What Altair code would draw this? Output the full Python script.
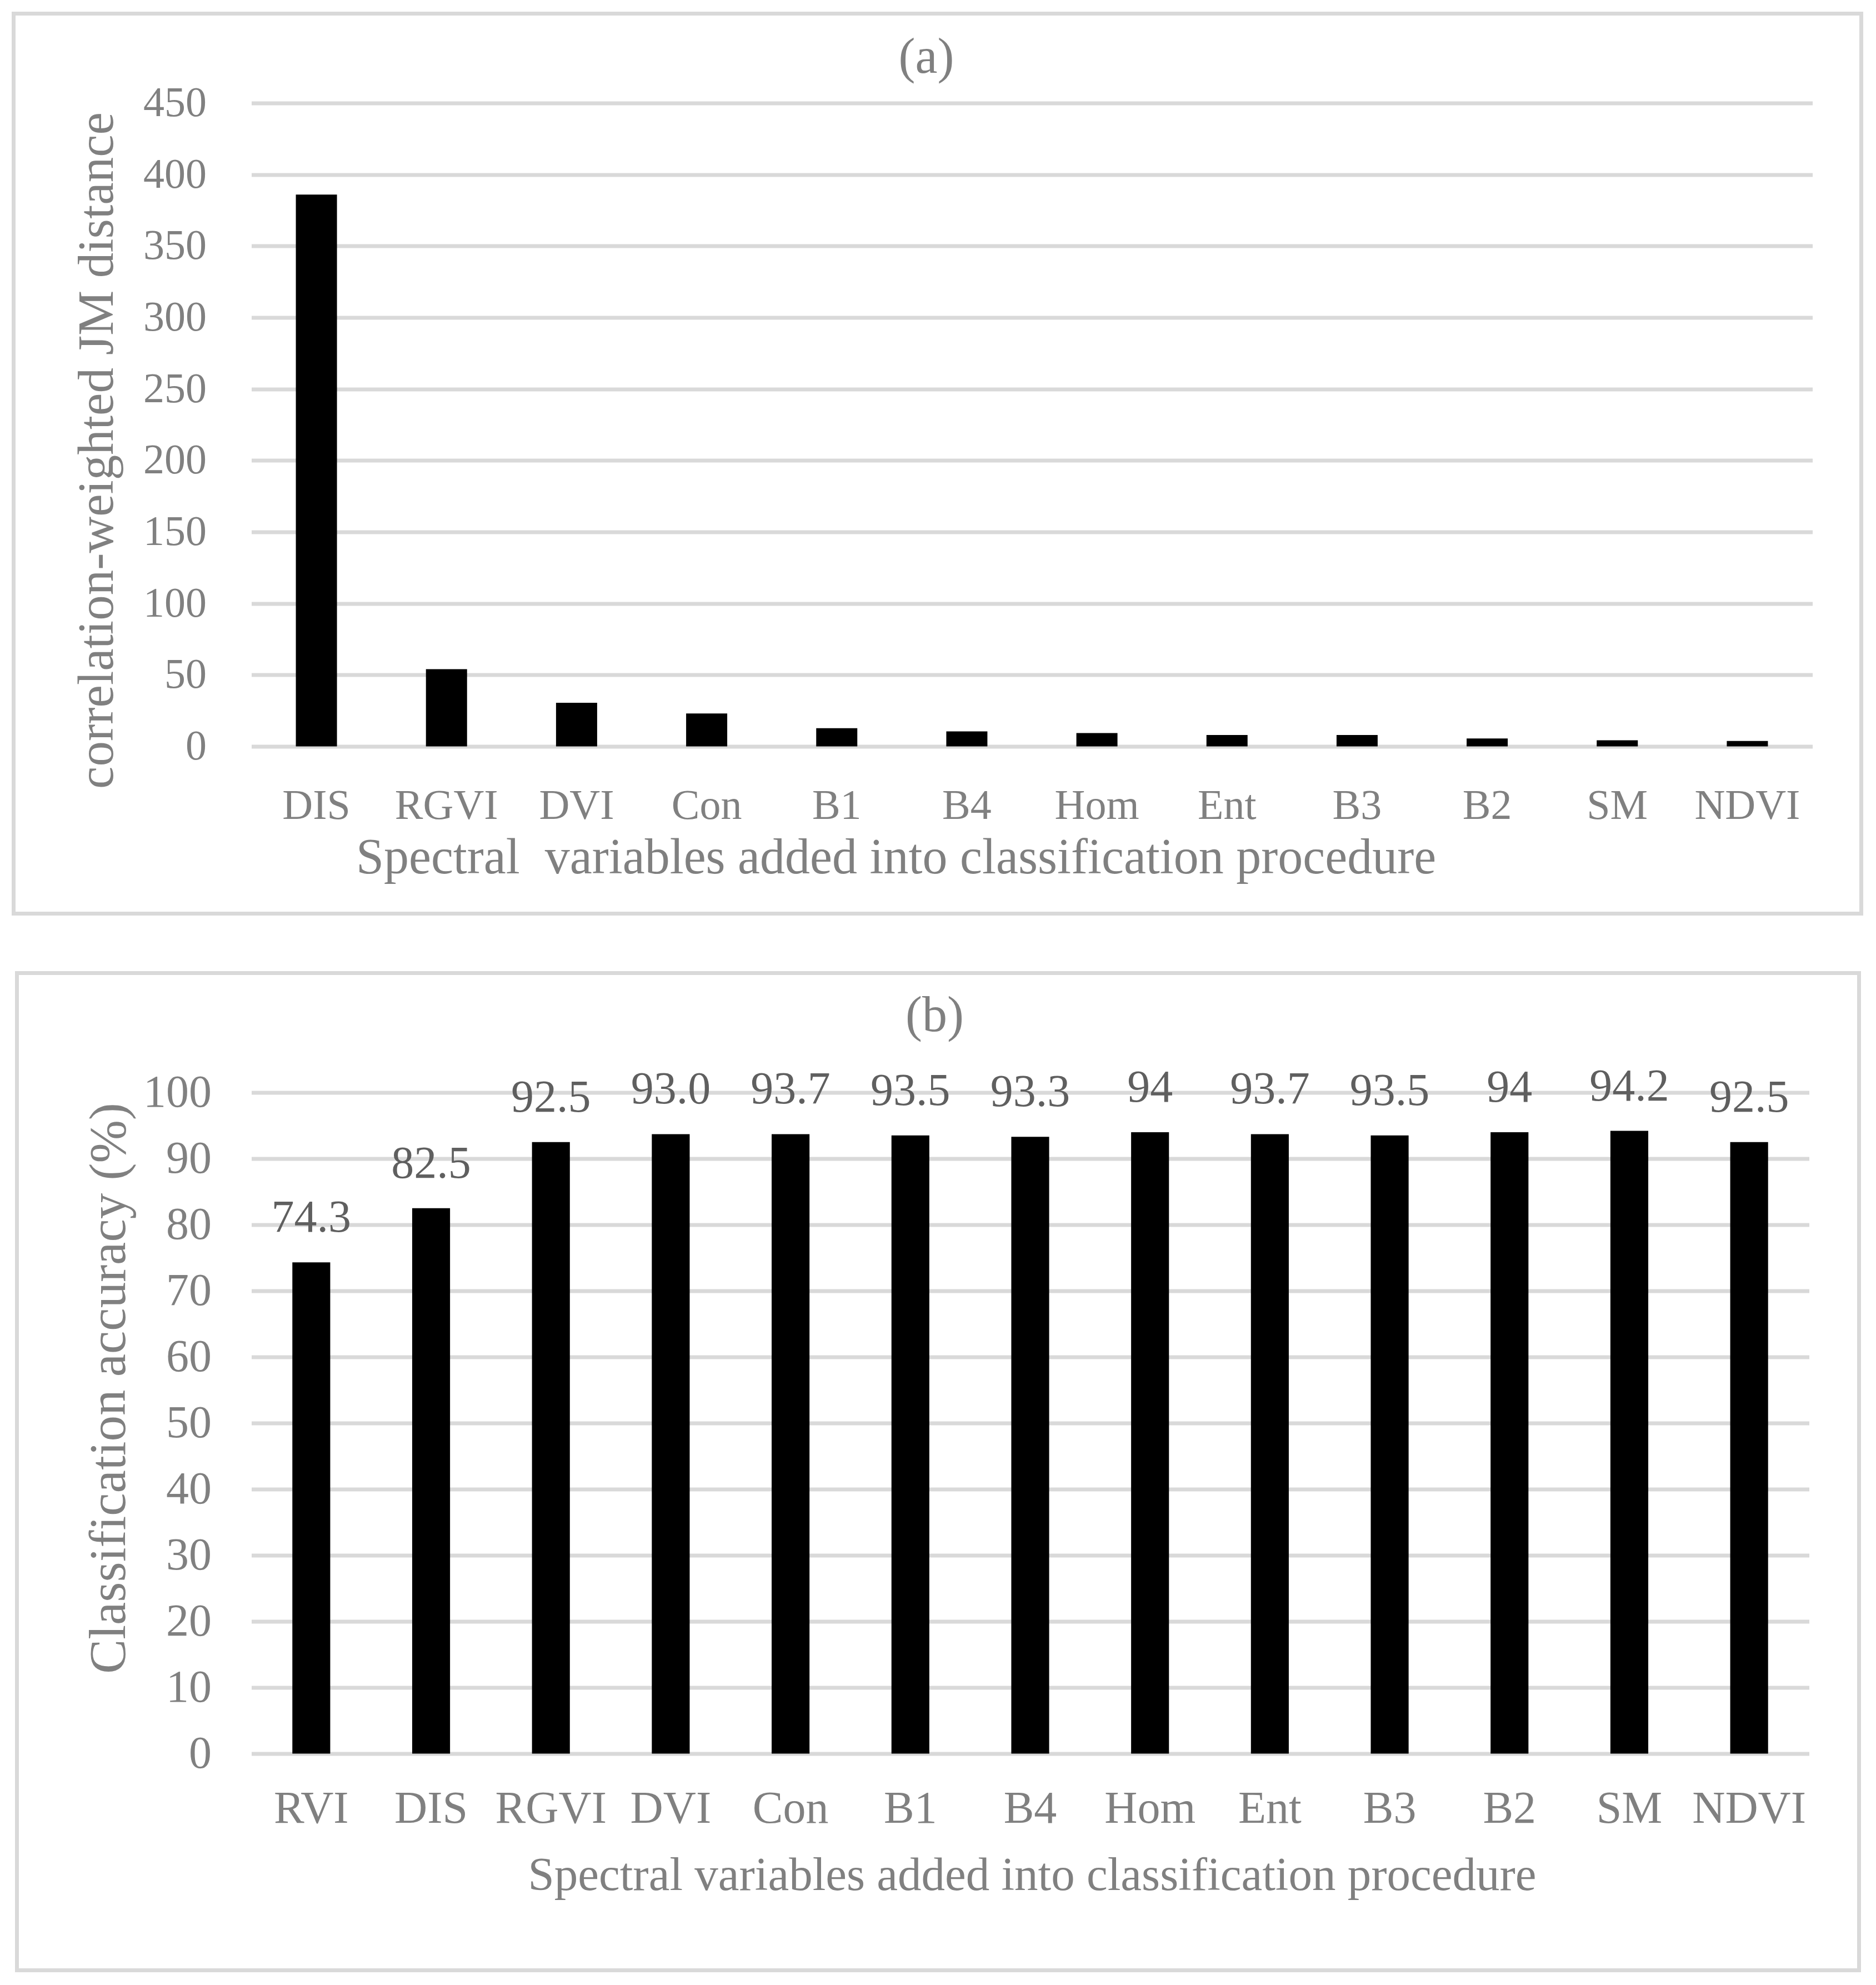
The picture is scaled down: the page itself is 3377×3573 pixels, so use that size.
import altair as alt
import pandas as pd

# ---- data ----
cats_a = ["DIS", "RGVI", "DVI", "Con", "B1", "B4", "Hom", "Ent", "B3", "B2", "SM", "NDVI"]
vals_a = [386, 54, 30.5, 23, 12.7, 10.5, 9.3, 8, 8, 5.5, 4.3, 3.8]
ticks_a = [0, 50, 100, 150, 200, 250, 300, 350, 400, 450]

cats_b = ["RVI", "DIS", "RGVI", "DVI", "Con", "B1", "B4", "Hom", "Ent", "B3", "B2", "SM", "NDVI"]
vals_b = [74.3, 82.5, 92.5, 93.7, 93.7, 93.5, 93.3, 94, 93.7, 93.5, 94, 94.2, 92.5]
labels_b = ["74.3", "82.5", "92.5", "93.0", "93.7", "93.5", "93.3", "94", "93.7", "93.5", "94", "94.2", "92.5"]
ticks_b = [0, 10, 20, 30, 40, 50, 60, 70, 80, 90, 100]

FONT = "Liberation Serif"
AX = "#808080"
LBL = "#5f5f5f"
GRID = "#d9d9d9"

df_a = pd.DataFrame({"var": cats_a, "val": vals_a})
df_b = pd.DataFrame({"var": cats_b, "val": vals_b, "lab": labels_b})
one = pd.DataFrame({"k": [0]})

band = alt.Scale(paddingInner=0.684, paddingOuter=0.342)

# ---------------- panel (a) ----------------
xa = alt.X("var:N", sort=cats_a, scale=band,
           axis=alt.Axis(title="Spectral\u00a0 variables added into classification procedure",
                         labelAngle=0, labelFont=FONT, labelFontSize=76, labelColor=AX,
                         labelPadding=70, labelLimit=0, ticks=False, domain=False, grid=False,
                         titleFont=FONT, titleFontSize=90, titleColor=AX, titleFontWeight="normal",
                         titleX=1160, titleY=228, titleAlign="center", titleBaseline="alphabetic"))
ya = alt.Y("val:Q", scale=alt.Scale(domain=[0, 450], nice=False),
           axis=alt.Axis(values=ticks_a, grid=True, gridColor=GRID, gridWidth=7,
                         domain=False, ticks=False, labelFont=FONT, labelFontSize=76,
                         labelColor=AX, labelPadding=81,
                         title="correlation-weighted JM distance",
                         titleFont=FONT, titleFontSize=91, titleColor=AX, titleFontWeight="normal",
                         titleX=-250, titleY=625, titleAngle=270, titleAlign="center",
                         titleBaseline="alphabetic"))

bars_a = alt.Chart(df_a).mark_bar(color="black").encode(x=xa, y=ya)
frame_a = alt.Chart(one).mark_rect(filled=False, stroke=GRID, strokeWidth=7).encode(
    x=alt.value(-428), x2=alt.value(2898), y=alt.value(-161), y2=alt.value(1459))
title_a = alt.Chart(one).mark_text(text="(a)", font=FONT, fontSize=90, color=AX,
                                   baseline="alphabetic", align="center").encode(
    x=alt.value(1215), y=alt.value(-55))
chart_a = alt.layer(frame_a, bars_a, title_a).properties(width=2810, height=1158)

# ---------------- panel (b) ----------------
xb = alt.X("var:N", sort=cats_b, scale=band,
           axis=alt.Axis(title="Spectral variables added into classification procedure",
                         labelAngle=0, labelFont=FONT, labelFontSize=82, labelColor=AX,
                         labelPadding=59, labelLimit=0, ticks=False, domain=False, grid=False,
                         titleFont=FONT, titleFontSize=85, titleColor=AX, titleFontWeight="normal",
                         titleX=1405, titleY=245, titleAlign="center", titleBaseline="alphabetic"))
yb = alt.Y("val:Q", scale=alt.Scale(domain=[0, 100], nice=False),
           axis=alt.Axis(values=ticks_b, grid=True, gridColor=GRID, gridWidth=7,
                         domain=False, ticks=False, labelFont=FONT, labelFontSize=82,
                         labelColor=AX, labelPadding=72,
                         title="Classification accuracy (%)",
                         titleFont=FONT, titleFontSize=93, titleColor=AX, titleFontWeight="normal",
                         titleX=-228, titleY=532, titleAngle=270, titleAlign="center",
                         titleBaseline="alphabetic"))

base_b = alt.Chart(df_b).encode(x=xb, y=yb)
bars_b = base_b.mark_bar(color="black")
text_b = base_b.mark_text(font=FONT, fontSize=82, color=LBL, baseline="alphabetic",
                          align="center", dy=-55).encode(text="lab:N")
frame_b = alt.Chart(one).mark_rect(filled=False, stroke=GRID, strokeWidth=7).encode(
    x=alt.value(-422), x2=alt.value(2894), y=alt.value(-215), y2=alt.value(1580))
title_b = alt.Chart(one).mark_text(text="(b)", font=FONT, fontSize=90, color=AX,
                                   baseline="alphabetic", align="center").encode(
    x=alt.value(1230), y=alt.value(-111))
chart_b = alt.layer(frame_b, bars_b, text_b, title_b).properties(width=2804, height=1190)

chart = alt.vconcat(chart_a, chart_b, spacing=99).properties(
    padding={"left": 12.5, "top": 12.5, "right": 5, "bottom": 5},
    background="white",
).configure_view(stroke=None)

chart.save("out.html", embed_options={"renderer": "svg", "actions": False})
